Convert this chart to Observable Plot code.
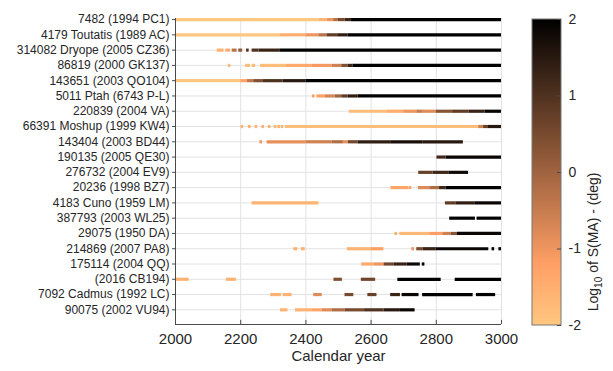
<!DOCTYPE html>
<html><head><meta charset="utf-8">
<script src="https://cdn.jsdelivr.net/npm/d3@7"></script>
<script src="https://cdn.jsdelivr.net/npm/@observablehq/plot@0.6"></script>
<style>
body{margin:0;background:#fff;}
#wrap{position:relative;width:613px;height:371px;font-family:"Liberation Sans",Arial,Helvetica,sans-serif;}
#wrap svg{position:absolute;left:0;top:0;}
</style></head><body><div id="wrap"></div>
<script>
const rowNames = ["7482 (1994 PC1)","4179 Toutatis (1989 AC)","314082 Dryope (2005 CZ36)","86819 (2000 GK137)","143651 (2003 QO104)","5011 Ptah (6743 P-L)","220839 (2004 VA)","66391 Moshup (1999 KW4)","143404 (2003 BD44)","190135 (2005 QE30)","276732 (2004 EV9)","20236 (1998 BZ7)","4183 Cuno (1959 LM)","387793 (2003 WL25)","29075 (1950 DA)","214869 (2007 PA8)","175114 (2004 QQ)","(2016 CB194)","7092 Cadmus (1992 LC)","90075 (2002 VU94)"];
const xTicks = [2000,2200,2400,2600,2800,3000];
const cbTicks = [-2,-1,0,1,2];
// per asteroid: [startYear, endYear, log10 S(MA)]
const r7482 = [[2000,2440,-2],[2440,2465,-1.6],[2465,2485,-1],[2485,2500,-0.3],[2500,2520,0.5],[2520,2540,1.2],[2540,3000,2]];
const r4179 = [[2000,2320,-2],[2320,2400,-1.5],[2400,2440,-1.0],[2440,2465,-0.3],[2465,2500,0.8],[2500,2530,1.4],[2530,3000,2]];
const r314082 = [[2128,2149,-1.6],[2154,2169,-1.5],[2174,2189,-0.3],[2194,2206,0.2],[2218,2226,1.0],[2235,2256,1.0],[2256,2320,1.3],[2320,3000,2]];
const r86819 = [[2162,2170,-1.8],[2215,2230,-1.8],[2235,2246,-1.8],[2261,2340,-1.8],[2340,2420,-1.4],[2420,2480,-1.1],[2480,2510,-0.6],[2510,2530,0.4],[2530,2545,1.3],[2545,3000,2]];
const r143651 = [[2000,2200,-2],[2200,2220,-1.3],[2220,2240,-0.4],[2240,2270,0.4],[2270,2330,1.0],[2330,2400,1.5],[2400,3000,2]];
const r5011 = [[2420,2428,-1.2],[2434,2460,-1.2],[2460,2490,-0.7],[2490,2510,0],[2510,2530,0.8],[2530,2560,1.4],[2560,3000,2]];
const r220839 = [[2533,2650,-1.8],[2650,2700,-1.5],[2700,2740,-1.0],[2740,2760,-0.5],[2760,2800,-0.8],[2800,2850,0.3],[2850,2900,0.8],[2900,2950,1.3],[2950,3000,1.9]];
const r66391 = [[2201,2209,-1.6],[2224,2232,-1.6],[2244,2252,-1.6],[2265,2273,-1.6],[2285,2293,-1.6],[2303,2311,-1.6],[2314,2322,-1.6],[2324,2332,-1.6],[2337,2930,-1.8],[2930,2945,-0.6],[2945,2960,0.7],[2960,3000,1.5]];
const r143404 = [[2259,2267,-1.0],[2281,2400,-0.9],[2400,2480,-0.6],[2480,2515,-0.2],[2515,2530,-0.9],[2530,2560,0.6],[2560,2660,1.4],[2660,2760,1.7],[2760,2883,1.5]];
const r190135 = [[2802,2830,1.2],[2830,3000,1.9]];
const r276732 = [[2746,2790,0.7],[2790,2840,1.2],[2840,2899,1.8]];
const r20236 = [[2661,2716,-1.3],[2717,2725,-1.3],[2745,2780,-0.8],[2780,2810,-0.2],[2810,2830,1.2],[2830,3000,2]];
const r4183 = [[2235,2440,-1.6],[2828,2860,0.8],[2860,2920,1.4],[2920,3000,1.9]];
const r387793 = [[2841,2920,2],[2925,3000,2]];
const r29075 = [[2673,2681,-1.6],[2688,2780,-1.7],[2780,2820,-1.2],[2820,2845,-0.6],[2845,2865,0.3],[2865,3000,1.9]];
const r214869 = [[2363,2375,-1.6],[2386,2398,-1.6],[2527,2600,-1.6],[2600,2639,-1.2],[2725,2733,-1.0],[2740,2760,0.5],[2760,2800,1.3],[2800,2961,1.9],[2971,2979,2],[2992,3000,2]];
const r175114 = [[2571,2610,-1.4],[2610,2640,-1.0],[2640,2670,0.6],[2670,2710,1.3],[2710,2751,1.8],[2757,2765,2]];
const r2016CB194 = [[2000,2042,-1.6],[2156,2187,-1.6],[2486,2512,0.4],[2570,2614,0.6],[2682,2815,2],[2858,3000,2]];
const r7092 = [[2292,2325,-1.6],[2330,2358,-1.6],[2424,2450,-0.8],[2520,2547,0.5],[2590,2618,0.7],[2660,2690,1.3],[2695,2747,1.9],[2758,2913,2],[2923,2982,2]];
const r90075 = [[2322,2345,-1.6],[2368,2420,-1.6],[2420,2450,-1.3],[2450,2480,-0.8],[2480,2520,-0.2],[2520,2580,0.5],[2580,2640,1.0],[2640,2690,1.5],[2690,2735,1.9]];

const rows = [r7482,r4179,r314082,r86819,r143651,r5011,r220839,r66391,r143404,r190135,r276732,r20236,r4183,r387793,r29075,r214869,r175114,r2016CB194,r7092,r90075];
const segs = rows.flatMap((r,i) => r.map(([x1,x2,v]) => ({row:i, x1, x2, v})));

// reversed MATLAB copper
const copperR = t => { const s = 1 - t; return d3.rgb(255*Math.min(1,1.25*s), 255*0.7812*s, 255*0.4975*s).formatHex(); };

const font = '"Liberation Sans",Arial,Helvetica,sans-serif';
const yTop = -0.07, yBot = 19.96;
const axisCol = "#4a4a4a", gridCol = "#e2e2e2", textCol = "#262626";

const main = Plot.plot({
  width: 613, height: 371,
  marginLeft: 175, marginRight: 112, marginTop: 18, marginBottom: 47,
  x: {domain: [2000, 3000], axis: null},
  y: {domain: [yBot, yTop], axis: null},
  color: {type: "linear", domain: [-2, 2], interpolate: copperR, clamp: true},
  style: {fontFamily: font, color: textCol, background: "white"},
  marks: [
    Plot.ruleX(xTicks, {stroke: gridCol}),
    Plot.ruleY(d3.range(rowNames.length), {stroke: gridCol}),
    Plot.ruleY(segs, {y: "row", x1: "x1", x2: "x2", stroke: "v", strokeWidth: 3.2}),
    Plot.ruleX([2000], {stroke: axisCol}),
    Plot.ruleY([yBot], {stroke: axisCol}),
    Plot.ruleX(xTicks, {y1: yBot, y2: yBot - 0.27, stroke: axisCol}),
    Plot.ruleY(d3.range(rowNames.length), {x1: 1991, x2: 2000, stroke: axisCol}),
    Plot.text(xTicks, {x: d => d, y: yBot, dy: 15, fontSize: 15, fill: textCol, text: d => String(d)}),
    Plot.text(rowNames, {x: 2000, y: (d, i) => i, dx: -6, textAnchor: "end", fontSize: 12, fill: textCol}),
    Plot.text(["Calendar year"], {frameAnchor: "bottom", dy: 36, fontSize: 15, fill: textCol})
  ]
});

const cb = Plot.plot({
  width: 613, height: 371,
  marginLeft: 532, marginRight: 52, marginTop: 19, marginBottom: 46,
  x: {domain: [0, 1], axis: null},
  y: {domain: [-2, 2], axis: null},
  style: {fontFamily: font, color: textCol, background: "transparent"},
  marks: [
    () => {
      const g = d3.create("svg:g");
      const grad = g.append("defs").append("linearGradient")
        .attr("id", "cbgrad").attr("x1", 0).attr("y1", 1).attr("x2", 0).attr("y2", 0);
      [[0, 0], [0.2, 0.2], [1, 1]].forEach(([o, t]) =>
        grad.append("stop").attr("offset", o).attr("stop-color", copperR(t)));
      return g.node();
    },
    Plot.rect([0], {x1: 0, x2: 1, y1: -2, y2: 2, fill: "url(#cbgrad)", stroke: "#777"}),
    Plot.ruleY(cbTicks, {x1: 0.86, x2: 1, stroke: axisCol}),
    Plot.text(cbTicks, {x: 1, y: d => d, dx: 7, textAnchor: "start", fontSize: 14, fill: textCol, text: d => String(d)}),
    Plot.text(["Log10 of S(MA) - (deg)"], {frameAnchor: "right", dx: 32, rotate: -90, fontSize: 14, fill: textCol})
  ]
});

const wrap = document.getElementById("wrap");
wrap.appendChild(main);
wrap.appendChild(cb);

// subscript "10" in the colorbar title
d3.select(cb).selectAll("text").filter(function() { return this.textContent === "Log10 of S(MA) - (deg)"; })
  .each(function() {
    const t = d3.select(this);
    t.text(null);
    t.append("tspan").text("Log");
    t.append("tspan").attr("dy", 4).attr("font-size", 10).text("10");
    t.append("tspan").attr("dy", -4).text(" of S(MA) - (deg)");
  });
</script>
</body></html>
